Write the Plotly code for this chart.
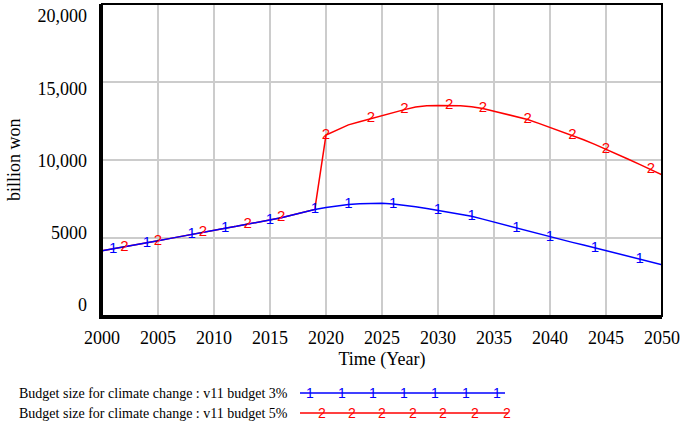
import plotly.graph_objects as go

years = list(range(2000, 2051))
budget_3pct = [4180, 4300, 4420, 4550, 4680, 4820, 4960, 5100, 5250, 5380,
               5500, 5630, 5750, 5880, 6010, 6140, 6300, 6470, 6650, 6830,
               6960, 7060, 7150, 7200, 7230, 7230, 7180, 7100, 7000, 6890,
               6770, 6650, 6520, 6390, 6210, 6020, 5830, 5630, 5440, 5250,
               5060, 4890, 4720, 4550, 4370, 4180, 3990, 3800, 3610, 3450, 3290]
budget_5pct = [4180, 4300, 4420, 4550, 4680, 4820, 4960, 5100, 5250, 5380,
               5500, 5630, 5750, 5880, 6010, 6140, 6300, 6470, 6650, 6830,
               11600, 11950, 12250, 12450, 12650, 12850, 13050, 13230, 13400, 13480,
               13500, 13500, 13480, 13420, 13300, 13130, 12950, 12780, 12600, 12350,
               12100, 11850, 11580, 11300, 11000, 10700, 10380, 10050, 9720, 9380, 9050]
label_years_3 = [2001, 2004, 2008, 2011, 2015, 2019, 2022, 2026, 2030, 2033, 2037, 2040, 2044, 2048]
label_years_5 = [2002, 2005, 2009, 2013, 2016, 2020, 2024, 2027, 2031, 2034, 2038, 2042, 2045, 2049]
y_ticks = [0, 5000, 10000, 15000, 20000]
y_tick_labels = ["0", "5000", "10,000", "15,000", "20,000"]
x_ticks = list(range(2000, 2051, 5))
series_names = ["Budget size for climate change : v11 budget 3%",
                "Budget size for climate change : v11 budget 5%"]

BLUE = "#0000ff"
RED = "#ff0000"
SERIF = "Liberation Serif, Times New Roman, serif"
SANS = "Liberation Sans, Arial, sans-serif"

fig = go.Figure()
fig.add_trace(go.Scatter(x=years, y=budget_5pct, mode="lines",
                         line=dict(color=RED, width=1.5), showlegend=False))
fig.add_trace(go.Scatter(x=years, y=budget_3pct, mode="lines",
                         line=dict(color=BLUE, width=1.5), showlegend=False))
fig.add_trace(go.Scatter(x=label_years_5,
                         y=[budget_5pct[years.index(y)] for y in label_years_5],
                         mode="text", text=["2"] * len(label_years_5),
                         textposition="middle center",
                         textfont=dict(color=RED, size=15, family=SANS), showlegend=False))
fig.add_trace(go.Scatter(x=label_years_3,
                         y=[budget_3pct[years.index(y)] for y in label_years_3],
                         mode="text", text=["1"] * len(label_years_3),
                         textposition="middle center",
                         textfont=dict(color=BLUE, size=15, family=SANS), showlegend=False))
# invisible trace to activate the label axis
fig.add_trace(go.Scatter(x=[years[0]], y=[y_ticks[0]], yaxis="y2", mode="markers",
                         marker=dict(opacity=0), showlegend=False, hoverinfo="skip"))

# Legend drawn below the plot
L, R, T, B = 102, 23, 4, 112
W, H = 685 - L - R, 428 - T - B
def px(xp):
    return (xp - L) / W
def py(yp):
    return (428 - B - yp) / H

legend_rows = [(393, BLUE, "1", [310, 342, 373, 404, 435, 466, 497], 505),
               (413, RED, "2", [322, 352, 382, 413, 443, 475, 507], 508)]
shapes = []
annotations = [dict(xref="paper", yref="paper", x=px(14), y=py(160), textangle=-90,
                    xanchor="center", yanchor="middle", showarrow=False,
                    text="billion won", font=dict(family=SERIF, size=18, color="black"))]
for (yrow, col, lab, xs, xend), name in zip(legend_rows, series_names):
    annotations.append(dict(xref="paper", yref="paper", x=px(290), y=py(yrow),
                            xanchor="right", yanchor="middle", showarrow=False,
                            text=name, font=dict(family=SERIF, size=14, color="black")))
    shapes.append(dict(type="line", xref="paper", yref="paper",
                       x0=px(300), x1=px(xend), y0=py(yrow), y1=py(yrow),
                       line=dict(color=col, width=1.5)))
    for xx in xs:
        annotations.append(dict(xref="paper", yref="paper", x=px(xx), y=py(yrow),
                                xanchor="center", yanchor="middle", showarrow=False,
                                text=lab, font=dict(family=SANS, size=14, color=col)))

shapes.append(dict(type="rect", xref="paper", yref="paper", x0=0, x1=1, y0=0, y1=1,
                   line=dict(color="black", width=2), layer="above"))

fig.update_layout(
    width=685, height=428,
    margin=dict(l=L, r=R, t=T, b=B, autoexpand=False),
    paper_bgcolor="white", plot_bgcolor="white",
    showlegend=False,
    shapes=shapes, annotations=annotations,
    font=dict(family=SERIF, color="black"),
    xaxis=dict(range=[2000, 2050], tickvals=x_ticks, ticks="", automargin=False,
               ticklabeloverflow="allow", ticklabelstandoff=3,
               showgrid=True, gridcolor="#cccccc", gridwidth=1.5,
               showline=True, linecolor="black", linewidth=3,
               tickfont=dict(family=SERIF, size=18, color="black"),
               title=dict(text="Time (Year)", font=dict(family=SERIF, size=18), standoff=6),
               zeroline=False),
    yaxis=dict(range=[0, 20000], tickvals=y_ticks, showticklabels=False, ticks="",
               automargin=False,
               showgrid=True, gridcolor="#cccccc", gridwidth=1.5,
               showline=True, linecolor="black", linewidth=3,
               zeroline=False),
    yaxis2=dict(overlaying="y", side="left", range=[-761, 20830],
                tickvals=y_ticks, ticktext=y_tick_labels, ticks="",
                automargin=False, ticklabeloverflow="allow", ticklabelstandoff=14,
                showgrid=False, showline=False, zeroline=False,
                tickfont=dict(family=SERIF, size=18, color="black")),
)

fig.write_html("out.html", config={"displayModeBar": False},
               post_script="document.body.style.margin='0';")
